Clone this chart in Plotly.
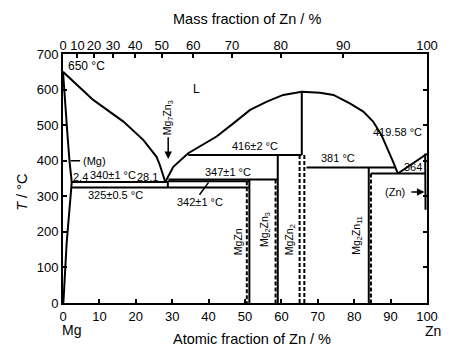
import plotly.graph_objects as go

# ---------------- data ----------------
# liquidus branches (atomic % Zn, T in °C)
liq_left_x = [0, 8.3, 16.6, 22.1, 25.7, 26.6, 28.1]
liq_left_T = [650, 571, 510, 458, 411, 388, 340]
liq_mid_x = [28.1, 30.3, 34.4, 42.2, 46.8, 51.4, 56.0, 60.5, 65.6, 70.6, 74.3, 78.8, 82.5, 85.2, 87.5, 89.4, 90.7, 92.0]
liq_mid_T = [340, 383, 421, 468, 505, 543, 566, 585, 594, 591, 585, 561, 538, 510, 472, 430, 397, 364]
liq_right_x = [92.0, 100]
liq_right_T = [364, 419.58]

# (Mg) solidus and solvus
mg_sol_x = [0, 0.55, 1.3, 1.8, 2.4]
mg_sol_T = [650, 557, 463, 397, 340]
mg_solv_x = [2.4, 1.0, 0.1]
mg_solv_T = [340, 168, 0]

# (Zn) solidus / solvus
zn_solv_x = [99.5, 99.5, 99.6]
zn_solv_T = [419.58, 364, 262]

# invariant horizontals: (x_start, x_end, T)
iso_x0 = [2.4, 28.8, 29.0, 2.4, 34.4, 66.9, 84.6]
iso_x1 = [28.8, 51.2, 59.0, 51.2, 65.6, 91.3, 99.5]
iso_T = [340, 342, 347, 325, 416, 381, 364]

# compound lines, solid: (x, T_top, T_bottom)
cmp_solid_x = [51.2, 59.0, 65.6, 84.0, 28.8]
cmp_solid_top = [347, 416, 594, 381, 342]
cmp_solid_bot = [0, 0, 416, 0, 325]
# compound lines, dashed
cmp_dash_x = [50.5, 58.4, 65.0, 66.3, 84.6]
cmp_dash_top = [342, 347, 416, 416, 364]
cmp_dash_bot = [0, 0, 0, 0, 0]

# axis ticks
at_ticks = list(range(0, 101, 10))
T_ticks = list(range(0, 701, 100))
mass_ticks = [0, 10, 20, 30, 40, 50, 60, 70, 80, 90, 100]
M_MG, M_ZN = 24.305, 65.38

def mass_to_atomic(w):
    w = w / 100.0
    if w >= 1:
        return 100.0
    a = w / M_ZN
    b = (1 - w) / M_MG
    return 100.0 * a / (a + b)

mass_pos = [mass_to_atomic(w) for w in mass_ticks]

# ---------------- figure ----------------
fig = go.Figure()
LW = 2
black = "black"

def line(x, y, dash=None, w=LW):
    fig.add_trace(go.Scatter(x=x, y=y, mode="lines",
                             line=dict(color=black, width=w, dash=dash),
                             showlegend=False, hoverinfo="skip"))

line(liq_left_x, liq_left_T)
line(liq_mid_x, liq_mid_T)
line(liq_right_x, liq_right_T)
line(mg_sol_x, mg_sol_T)
line(mg_solv_x, mg_solv_T)
line(zn_solv_x, zn_solv_T)
for x0, x1, t in zip(iso_x0, iso_x1, iso_T):
    line([x0, x1], [t, t])
for x, t0, t1 in zip(cmp_solid_x, cmp_solid_top, cmp_solid_bot):
    line([x, x], [t0, t1])
for x, t0, t1 in zip(cmp_dash_x, cmp_dash_top, cmp_dash_bot):
    line([x, x], [t0, t1], dash="4px,2px")

# invisible trace for top axis
fig.add_trace(go.Scatter(x=[0, 100], y=[0, 0], xaxis="x2", mode="markers",
                         marker=dict(opacity=0), showlegend=False, hoverinfo="skip"))

FONT = "Liberation Sans, Arial, sans-serif"
ann = []

def txt(x, y, s, size=11, xanchor="center", yanchor="middle", angle=0):
    ann.append(dict(x=x, y=y, xref="x", yref="y", text=s, showarrow=False,
                    font=dict(size=size, color=black, family=FONT),
                    xanchor=xanchor, yanchor=yanchor, textangle=angle))

def arrow(x0, y0, x1, y1, head=2):
    ann.append(dict(x=x1, y=y1, ax=x0, ay=y0, xref="x", yref="y", axref="x", ayref="y",
                    text="", showarrow=True, arrowhead=head, arrowsize=1, arrowwidth=1.5,
                    arrowcolor=black))

txt(0.8, 665, "650 °C", size=12, xanchor="left")
txt(36.7, 603, "L", size=12)
txt(28.9, 520, "Mg<sub>7</sub>Zn<sub>3</sub>", size=10.5, angle=-90)
arrow(28.9, 470, 28.9, 405)
txt(52.7, 440, "416±2 °C", size=11)
txt(45.4, 369, "347±1 °C", size=11)
txt(13.7, 360, "340±1 °C", size=11)
txt(23.3, 354, "28.1", size=11)
txt(4.7, 354, "2.4", size=11)
txt(14.3, 303, "325±0.5 °C", size=11)
txt(37.6, 284, "342±1 °C", size=11)
arrow(37.2, 300, 40.0, 339, head=0)
txt(4.9, 400, "(Mg)", size=11, xanchor="left")
arrow(1.7, 400, 4.7, 400, head=0)
txt(99.3, 482, "419.58 °C", size=11, xanchor="right")
txt(75.6, 407, "381 °C", size=11)
txt(99.3, 381, "364", size=11, xanchor="right")
txt(100.2, 344, "99.6", size=11, xanchor="right")
txt(94.6, 312, "(Zn)", size=11, xanchor="right")
arrow(95.3, 312, 99.3, 312)
txt(47.9, 172, "MgZn", size=10.5, angle=-90)
txt(55.5, 205, "Mg<sub>2</sub>Zn<sub>3</sub>", size=10.5, angle=-90)
txt(62.4, 177, "MgZn<sub>2</sub>", size=10.5, angle=-90)
txt(80.7, 191, "Mg<sub>2</sub>Zn<sub>11</sub>", size=10.5, angle=-90)

# paper-anchored titles
def ptxt(x, y, s, size=14.5, angle=0):
    ann.append(dict(x=x, y=y, xref="paper", yref="paper", text=s, showarrow=False,
                    font=dict(size=size, color=black, family=FONT),
                    xanchor="center", yanchor="middle", textangle=angle))

ptxt(0.5055, 1.1406, "Mass fraction of Zn / %")
ptxt(0.519, -0.145, "Atomic fraction of Zn / %")
ptxt(0.024, -0.108, "Mg", size=14)
ptxt(1.0165, -0.1124, "Zn", size=14)
ptxt(-0.113, 0.446, "<i>T</i> / °C", angle=-90)

axis_common = dict(showgrid=False, zeroline=False, linecolor=black, linewidth=2,
                   ticks="inside", ticklen=4, tickwidth=1.5, tickcolor=black,
                   tickfont=dict(size=13, color=black, family=FONT))

fig.update_layout(
    width=465, height=350,
    margin=dict(l=63, r=38, t=54, b=47),
    paper_bgcolor="white", plot_bgcolor="white",
    font=dict(family=FONT, color=black),
    xaxis=dict(range=[0, 100], tickvals=at_ticks, showline=True, mirror=True,
               ticklabelstandoff=0, **axis_common),
    xaxis2=dict(range=[0, 100], overlaying="x", side="top", tickvals=mass_pos,
                ticktext=[str(m) for m in mass_ticks], showline=False, **axis_common),
    yaxis=dict(range=[0, 700], tickvals=T_ticks, showline=True, mirror="ticks", **axis_common),
    annotations=ann,
)

fig.write_html("out.html")
